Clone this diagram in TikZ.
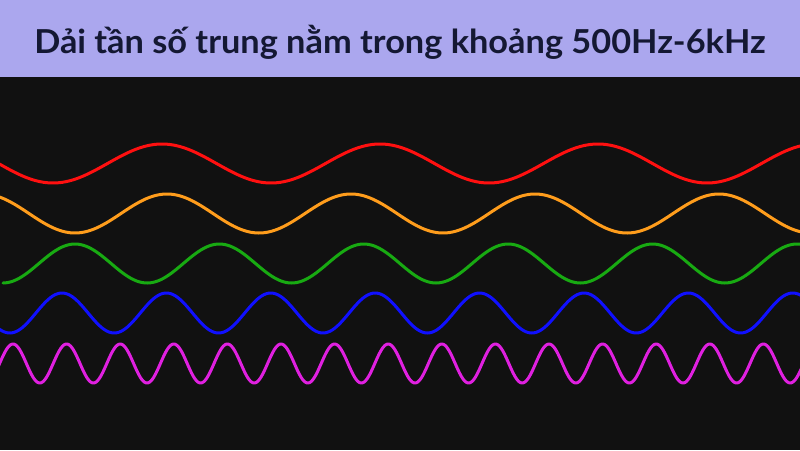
\documentclass[tikz,border=0pt]{standalone}
\usepackage{fontspec}
\setmainfont{Lato}
\definecolor{bgdark}{HTML}{111111}
\definecolor{banner}{HTML}{ABA7EE}
\definecolor{titlecol}{HTML}{141833}
\definecolor{wred}{HTML}{FF1010}
\definecolor{worange}{HTML}{FF9D1C}
\definecolor{wgreen}{HTML}{18AA12}
\definecolor{wblue}{HTML}{1010FF}
\definecolor{wmag}{HTML}{E020E0}
\tikzset{
  wave/.style={line width=3pt, line cap=round, line join=round},
  titletext/.style={font=\bfseries\fontsize{33}{38}\selectfont, text=titlecol, inner sep=0pt, anchor=base}
}
\begin{document}
\begin{tikzpicture}[x=1pt,y=-1pt]
\useasboundingbox (0,0) rectangle (800,450);
\fill[bgdark] (0,0) rectangle (800,450);
\fill[banner] (0,0) rectangle (800,77);
\node[titletext] (title) at (400,53) {\scalebox{1.04}[1]{Dải tần số trung nằm trong khoảng 500Hz-6kHz}};
\begin{scope}
\clip (0,78) rectangle (800,450);
\draw[wave, wred] plot[domain=-2:802, samples=300, smooth] (\x, {163.5 - 19.5*cos(360/218*(\x-162))});
\draw[wave, worange] plot[domain=-2:802, samples=300, smooth] (\x, {213.5 - 19.5*cos(360/184*(\x-167))});
\draw[wave, wgreen] plot[domain=3:802, samples=300, smooth] (\x, {263.5 - 19.5*cos(360/144.4*(\x-75))});
\draw[wave, wblue] plot[domain=-2:802, samples=400, smooth] (\x, {313 - 20*cos(360/104.4*(\x-62))});
\draw[wave, wmag] plot[domain=-2:802, samples=600, smooth] (\x, {363.5 - 19.5*cos(360/53.6*(\x-13))});
\end{scope}
\end{tikzpicture}
\end{document}
